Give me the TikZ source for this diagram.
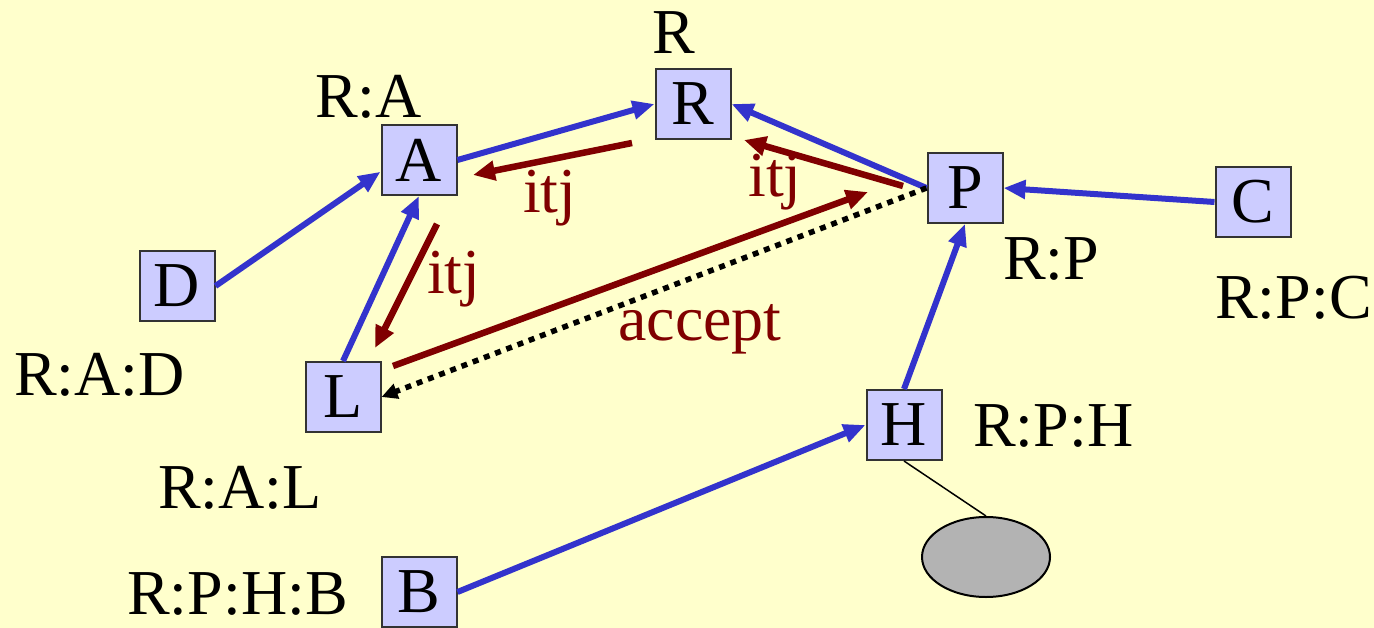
\documentclass[tikz,border=0pt]{standalone}
\usepackage{fontspec}
\setmainfont{Liberation Serif}
\usetikzlibrary{arrows.meta,shapes.geometric}
\definecolor{bgc}{HTML}{FFFFCC}
\definecolor{boxc}{HTML}{CCCCFF}
\definecolor{bluec}{HTML}{3333CC}
\definecolor{redc}{HTML}{800000}
\definecolor{ellc}{HTML}{B3B3B3}
\tikzset{
  stepbox/.style={draw=black!80, line width=2bp, fill=boxc, minimum width=75bp, minimum height=70bp, inner sep=0pt, font=\fontsize{64bp}{64bp}\selectfont},
  lbl/.style={anchor=base west, inner sep=0pt, font=\fontsize{64bp}{64bp}\selectfont},
  rlbl/.style={lbl, text=redc},
  bluearrow/.style={draw=bluec, line width=6bp, -{Triangle[length=22bp,width=18bp]}},
  redarrow/.style={draw=redc, line width=6.5bp, -{Triangle[length=22bp,width=19bp]}},
  dotarrow/.style={draw=black, line width=5.5bp, dash pattern=on 6bp off 6bp, -{Triangle[length=16bp,width=15bp]}}
}
\begin{document}
\begin{tikzpicture}[x=1bp,y=-1bp]
\useasboundingbox[fill=bgc] (0,0) rectangle (1374,628);
% boxes
\node[stepbox] (R) at (693,104) {R};
\node[stepbox] (A) at (419,160) {A};
\node[stepbox] (D) at (177,286) {D};
\node[stepbox] (L) at (343,397) {L};
\node[stepbox] (P) at (965,188) {P};
\node[stepbox] (C) at (1253,202) {C};
\node[stepbox] (H) at (904,425) {H};
\node[stepbox] (B) at (419,592) {B};
\node[draw=black, line width=2bp, fill=ellc, ellipse, minimum width=128bp, minimum height=80bp, inner sep=0pt] (E) at (986,557) {};
% labels
\node[lbl] (lR) at (652,54) {R};
\node[lbl] (lA) at (315,118) {R:A};
\node[lbl] (lD) at (14,395) {R:A:D};
\node[lbl] (lL) at (158,508) {R:A:L};
\node[lbl] (lP) at (1003,279) {R:P};
\node[lbl] (lC) at (1215,318) {R:P:C};
\node[lbl] (lH) at (973,446) {R:P:H};
\node[lbl, text depth=0pt] (lB) at (127,614) {R:P:H:B};
\node[rlbl] (t1) at (523,212) {itj};
\node[rlbl] (t2) at (748,197) {itj};
\node[rlbl] (t3) at (427,293) {itj};
\node[rlbl] (t4) at (618,340) {accept};
% blue tree arrows
\draw[bluearrow] (D.east) -- (A.197);
\draw[bluearrow] (A.east) -- (R.west);
\draw[bluearrow] (L.north) -- (A.south);
\draw[bluearrow] (P.west) -- (R.east);
\draw[bluearrow] (C.west) -- (P.east);
\draw[bluearrow] (H.north) -- (P.south);
\draw[bluearrow] (B.east) -- (H.west);
% message arrows
\coordinate (r1s) at (632,143); \coordinate (r1e) at (473,175);
\coordinate (r2s) at (903,186); \coordinate (r2e) at (744,140);
\coordinate (r3s) at (437,224); \coordinate (r3e) at (375,348);
\coordinate (r4s) at (393,366); \coordinate (r4e) at (868,192);
\draw[redarrow] (r1s) -- (r1e);
\draw[redarrow] (r2s) -- (r2e);
\draw[redarrow] (r3s) -- (r3e);
\draw[redarrow] (r4s) -- (r4e);
\draw[dotarrow] (P.west) -- (L.east);
\draw[black, line width=1.5bp] (H.south) -- (E.north);
\end{tikzpicture}
\end{document}
